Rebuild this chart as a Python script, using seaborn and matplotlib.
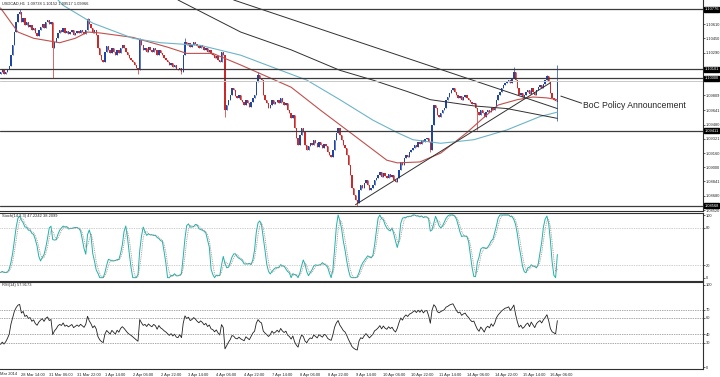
import numpy as np
import pandas as pd
import matplotlib
matplotlib.use("Agg")
import matplotlib.pyplot as plt
from matplotlib import font_manager
import seaborn as sns

# USDCAD H1 closes, one per bar (bar 0 ~ 27 Mar 22:00)
closes = [
    1.1007, 1.1009, 1.1005, 1.1007, 1.1010, 1.1014,
    1.1026, 1.1037, 1.1052, 1.1063, 1.1072,
    1.1075, 1.1063, 1.1068, 1.1060, 1.1063, 1.1058,
    1.1060, 1.1054, 1.1057, 1.1051, 1.1048,
    1.1054, 1.1058, 1.1061, 1.1057, 1.1063,
    1.1066, 1.1061, 1.1063,
    1.1034, 1.1041, 1.1045, 1.1051,
    1.1054, 1.1052, 1.1057, 1.1051,
    1.1053, 1.1050, 1.1052, 1.1054, 1.1049, 1.1051, 1.1053, 1.1051, 1.1054, 1.1052, 1.1050, 1.1054,
    1.1067, 1.1061,
    1.1057, 1.1051, 1.1054, 1.1049,
    1.1034, 1.1026, 1.1021, 1.1018,
    1.1030, 1.1036, 1.1032, 1.1028, 1.1034,
    1.1030, 1.1026, 1.1032, 1.1028, 1.1034,
    1.1037, 1.1034, 1.1030,
    1.1026, 1.1023, 1.1021, 1.1018, 1.1015, 1.1012,
    1.1009,
    1.1043,
    1.1037, 1.1032, 1.1034, 1.1030, 1.1035, 1.1032,
    1.1030, 1.1034, 1.1032, 1.1026, 1.1032, 1.1028, 1.1026, 1.1023, 1.1021,
    1.1018, 1.1015, 1.1017, 1.1013, 1.1015, 1.1010,
    1.1009, 1.1012, 1.1007,
    1.1026, 1.1041, 1.1037,
    1.1040, 1.1035, 1.1037, 1.1041, 1.1039, 1.1036, 1.1034, 1.1037, 1.1035, 1.1032, 1.1034,
    1.1030, 1.1032, 1.1027, 1.1026, 1.1023, 1.1025,
    1.1021, 1.1018,
    1.1030, 1.1026,
    1.0964, 1.0970, 1.0976,
    1.0981, 1.0989, 1.0987, 1.0980, 1.0978, 1.0981, 1.0976,
    1.0973, 1.0970, 1.0976, 1.0972, 1.0968, 1.0973, 1.0978, 1.0981,
    1.0996, 1.1004, 1.1000, 1.0998,
    1.0981, 1.0976,
    1.0972, 1.0967, 1.0970, 1.0976, 1.0971, 1.0973,
    1.0976, 1.0972, 1.0978, 1.0973, 1.0970, 1.0972,
    1.0964, 1.0961, 1.0955, 1.0959,
    1.0944, 1.0933, 1.0925, 1.0936,
    1.0944, 1.0940,
    1.0925, 1.0919, 1.0924, 1.0927,
    1.0925, 1.0931, 1.0927, 1.0923, 1.0928, 1.0925, 1.0922, 1.0926, 1.0924,
    1.0917, 1.0914, 1.0912, 1.0919,
    1.0931, 1.0939, 1.0944,
    1.0936, 1.0931, 1.0925,
    1.0922, 1.0914, 1.0903,
    1.0891, 1.0877, 1.0869, 1.0863, 1.0860,
    1.0874, 1.0880, 1.0877, 1.0882,
    1.0886, 1.0880, 1.0874, 1.0877,
    1.0880, 1.0886, 1.0888,
    1.0891, 1.0895, 1.0889, 1.0894, 1.0890,
    1.0888, 1.0892, 1.0889, 1.0891,
    1.0886, 1.0883, 1.0888, 1.0897,
    1.0906, 1.0903, 1.0910, 1.0914,
    1.0912, 1.0917, 1.0919,
    1.0922, 1.0925, 1.0923, 1.0928, 1.0926, 1.0931, 1.0928, 1.0932,
    1.0933, 1.0928, 1.0919,
    1.0948, 1.0970, 1.0967,
    1.0959, 1.0957, 1.0961,
    1.0964, 1.0967, 1.0976,
    1.0979, 1.0984, 1.0987, 1.0989, 1.0985,
    1.0981, 1.0978, 1.0980, 1.0976, 1.0979, 1.0981,
    1.0978, 1.0976, 1.0973, 1.0971, 1.0972, 1.0967,
    1.0962, 1.0959, 1.0964, 1.0961, 1.0957, 1.0962,
    1.0964, 1.0962, 1.0967, 1.0964, 1.0968,
    1.0976, 1.0981, 1.0985, 1.0989, 1.0992, 1.0995,
    1.0996, 1.0998, 1.0995,
    1.1000, 1.1007,
    1.0998, 1.0989, 1.0981, 1.0984,
    1.0979, 1.0981, 1.0985,
    1.0987, 1.0982, 1.0989, 1.0985, 1.0981,
    1.0987, 1.0990, 1.0992, 1.0989, 1.0994,
    1.0998, 1.1003, 1.0996,
    1.0984, 1.0978, 1.0976, 1.0974,
    1.09966,
]
first_open = 1.1005
last_open = 1.09738

# visible wick extremes (bar index -> price)
wick_high = {11: 1.1078, 50: 1.1068, 80: 1.1045, 106: 1.1045, 148: 1.1007,
             295: 1.1013, 314: 1.1004, 320: 1.10152}
wick_low = {30: 1.1000, 79: 1.1005, 104: 1.1005, 129: 1.0957, 205: 1.0857,
            247: 1.0917, 274: 1.0942, 320: 1.09517}

# indicator state carried in from the bars left of the screen
prior_high, prior_low = 1.1062, 1.1002
rsi_seed_gain, rsi_seed_loss = 0.00010, 0.00030

# moving averages, read at a handful of bars
red_ma_bar = [0, 10, 19, 34, 43, 50, 57, 76, 96, 107, 122, 138, 167, 184, 201,
              222, 228, 241, 253, 268, 276, 286, 297, 306, 314, 320]
red_ma_val = [1.1079, 1.1052, 1.1045, 1.1040, 1.1045, 1.1052, 1.1051, 1.1046, 1.1035,
              1.1028, 1.1028, 1.1015, 1.0990, 1.0964, 1.0939, 1.0908, 1.0905, 1.0906,
              1.0916, 1.0939, 1.0953, 1.0970, 1.0976, 1.0979, 1.0978, 1.0976]
blue_ma_bar = [33, 36, 53, 76, 92, 115, 138, 161, 176, 195, 214, 228, 237, 253, 272, 291, 310, 320]
blue_ma_val = [1.1088, 1.1082, 1.1062, 1.1045, 1.1040, 1.1037, 1.1026, 1.1009, 1.0998,
               1.0976, 1.0953, 1.0939, 1.0931, 1.0927, 1.0931, 1.0942, 1.0957, 1.0962]
black_ma_bar = [102, 138, 167, 195, 214, 234, 247, 272, 291, 320]
black_ma_val = [1.1088, 1.1052, 1.1032, 1.1009, 1.0998, 1.0985, 1.0976, 1.0969, 1.0966, 1.0955]

# drawn objects
trend_down = ([134, 320], [1.1088, 1.0966])
trend_up = ([204, 316], [1.0858, 1.0995])
pointer = ([322, 334], [1.0980, 1.0972])
h_levels = [1.10776, 1.10101, 1.10000, 1.09411, 1.08568]
bid = 1.09966

price_ticks = [1.10610, 1.10450, 1.10290, 1.09809, 1.09641, 1.09480,
               1.09321, 1.09160, 1.09000, 1.08841, 1.08680, 1.08520]
time_labels = ["28 Mar 14:00", "31 Mar 06:00", "31 Mar 22:00", "1 Apr 14:00", "2 Apr 06:00",
               "2 Apr 22:00", "3 Apr 14:00", "4 Apr 06:00", "4 Apr 22:00", "7 Apr 14:00",
               "8 Apr 06:00", "8 Apr 22:00", "9 Apr 14:00", "10 Apr 06:00", "10 Apr 22:00",
               "11 Apr 14:00", "14 Apr 06:00", "14 Apr 22:00", "15 Apr 14:00", "16 Apr 06:00"]
time_label_bars = [12 + 16 * i for i in range(len(time_labels))]


def pick_font(names):
    for nm in names:
        try:
            font_manager.findfont(nm, fallback_to_default=False)
            return nm
        except ValueError:
            pass
    return "DejaVu Sans"


# build OHLC frame
n = len(closes)
df = pd.DataFrame({"close": closes})
opens = [first_open] + closes[:-1]
opens[-1] = last_open
df["open"] = opens
df["high"] = df[["open", "close"]].max(axis=1)
df["low"] = df[["open", "close"]].min(axis=1)
for k, v in wick_high.items():
    df.loc[k, "high"] = v
for k, v in wick_low.items():
    df.loc[k, "low"] = v
df["bar"] = np.arange(n)

# Stochastic(14,3,3), MT4 style slowing
ll = df["low"].rolling(14, min_periods=1).min()
hh = df["high"].rolling(14, min_periods=1).max()
early = df["bar"] < 14
ll[early] = np.minimum(ll[early], prior_low)
hh[early] = np.maximum(hh[early], prior_high)
num = (df["close"] - ll).rolling(3, min_periods=1).sum()
den = (hh - ll).rolling(3, min_periods=1).sum()
df["stoch_k"] = 100 * num / den
df["stoch_d"] = df["stoch_k"].rolling(3, min_periods=1).mean()

# RSI(14), Wilder smoothing
g, l = rsi_seed_gain, rsi_seed_loss
rsi = []
prev = first_open
for c in df["close"]:
    d = c - prev
    prev = c
    g = (g * 13 + max(d, 0)) / 14
    l = (l * 13 + max(-d, 0)) / 14
    rsi.append(100 - 100 / (1 + g / l))
df["rsi"] = rsi

sns.set_style("white")
narrow = pick_font(["Liberation Sans Narrow", "Liberation Sans"])
plt.rcParams["font.family"] = [narrow, "DejaVu Sans"]
tick_fs = 2.9

fig = plt.figure(figsize=(7.2, 3.77), dpi=100)
W = 703 / 720
ax = fig.add_axes([0, 1 - 211 / 377, W, 211 / 377])
ax_st = fig.add_axes([0, 1 - 281 / 377, W, 68 / 377])
ax_rsi = fig.add_axes([0, 1 - 369 / 377, W, 87 / 377])

x_lim = (-0.3, 403.7)
up_col, dn_col = "#1f45a6", "#cc2a2a"

# candles
cols = [up_col if c >= o else dn_col for o, c in zip(df["open"], df["close"])]
ax.vlines(df["bar"], df["low"], df["high"], colors=cols, lw=0.5)
body = (df["close"] - df["open"]).abs().clip(lower=0.00003)
ax.bar(df["bar"], body, bottom=df[["open", "close"]].min(axis=1), width=0.8,
       color=cols, linewidth=0)

# moving averages
sns.lineplot(x=red_ma_bar, y=red_ma_val, ax=ax, color="#c0504d", lw=0.8)
sns.lineplot(x=blue_ma_bar, y=blue_ma_val, ax=ax, color="#6cb4c8", lw=0.8)
sns.lineplot(x=black_ma_bar, y=black_ma_val, ax=ax, color="#303030", lw=0.7)

# trendlines, levels, annotation
ax.plot(*trend_down, color="#303030", lw=0.7)
ax.plot(*trend_up, color="#303030", lw=0.7)
ax.plot(*pointer, color="#303030", lw=0.7)
for lv in h_levels:
    ax.axhline(lv, color="#3c3c3c", lw=0.9)
ax.axhline(bid, color="#c8c8c8", lw=0.7)
note_fs = 7.0 if narrow == "Liberation Sans Narrow" else 6.2
ax.text(335, 1.0970, "BoC Policy Announcement", fontsize=note_fs, va="center", ha="left")
ax.text(0.003, 0.995, "USDCAD,H1  1.09738 1.10152 1.09517 1.09966", transform=ax.transAxes,
        fontsize=tick_fs, va="top", ha="left")

ytr = ax.get_yaxis_transform()
for lv in h_levels:
    ax.text(1.002, lv, f"{lv:.5f}", transform=ytr, fontsize=tick_fs, color="white",
            va="center", ha="left", clip_on=False,
            bbox=dict(boxstyle="square,pad=0.1", fc="black", ec="black"))

ax.set_xlim(*x_lim)
ax.set_ylim(1.08509, 1.10880)
ax.set_yticks(price_ticks)
ax.set_yticklabels([f"{t:.5f}" for t in price_ticks])

# stochastic panel
sns.lineplot(data=df, x="bar", y="stoch_k", ax=ax_st, color="#20b2aa", lw=0.7)
sns.lineplot(data=df, x="bar", y="stoch_d", ax=ax_st, color="#a08080", lw=0.6,
             linestyle=(0, (1, 1.2)))
for lv in [80, 20]:
    ax_st.axhline(lv, color="#a0a0a0", lw=0.5, linestyle=(0, (1, 1.5)))
ax_st.set_xlim(*x_lim)
ax_st.set_ylim(-5.3, 103.2)
ax_st.set_yticks([100, 80, 20, 0])
ax_st.text(0.003, 0.985, "Stoch(14,3,3) 47.2242 38.2099", transform=ax_st.transAxes,
           fontsize=tick_fs, va="top", ha="left")

# RSI panel
sns.lineplot(data=df, x="bar", y="rsi", ax=ax_rsi, color="#202020", lw=0.6)
for lv in [70, 60, 40, 30]:
    ax_rsi.axhline(lv, color="#505050", lw=0.5, linestyle=(0, (1, 1.5)))
ax_rsi.set_xlim(*x_lim)
ax_rsi.set_ylim(-2.1, 103.6)
ax_rsi.set_yticks([100, 70, 60, 40, 30, 0])
ax_rsi.text(0.003, 0.985, "RSI(14) 57.9173", transform=ax_rsi.transAxes,
            fontsize=tick_fs, va="top", ha="left")

ax_rsi.set_xticks(time_label_bars)
ax_rsi.set_xticklabels(time_labels, ha="left")
ax_rsi.text(0.0, -0.03, "Mar 2014", transform=ax_rsi.transAxes,
            fontsize=tick_fs, va="top", ha="left", clip_on=False)

for a in (ax, ax_st, ax_rsi):
    a.set_xlabel("")
    a.set_ylabel("")
    a.yaxis.tick_right()
    a.tick_params(axis="y", labelsize=tick_fs, length=1.2, width=0.5, pad=0.6, right=True, left=False)
    a.tick_params(axis="x", labelsize=tick_fs, length=2, width=0.5, pad=1)
    a.spines["left"].set_visible(False)
    for s in ["right", "top", "bottom"]:
        a.spines[s].set_color("#303030")
        a.spines[s].set_linewidth(0.8)
    if a is not ax_rsi:
        a.set_xticks([])
ax.spines["top"].set_visible(False)

fig.savefig("out.png", dpi=100, facecolor="white")
